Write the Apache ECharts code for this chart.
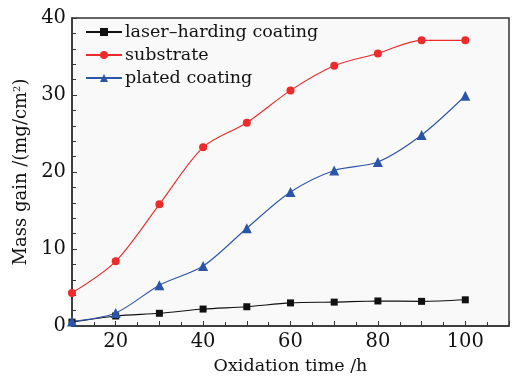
<!DOCTYPE html>
<html>
<head>
<meta charset="utf-8">
<script src="https://cdn.jsdelivr.net/npm/echarts@6/dist/echarts.min.js"></script>
<style>
  html, body { margin: 0; padding: 0; background: #fff; }
  #chart { width: 515px; height: 376px; }
</style>
</head>
<body>
<div id="chart"></div>
<script>
// oxidation time (h)
const times = [10, 20, 30, 40, 50, 60, 70, 80, 90, 100]
// mass gain (mg/cm2)
const laserHarding = [0.5, 1.3, 1.65, 2.2, 2.5, 3.0, 3.1, 3.25, 3.2, 3.4]
const substrate = [4.3, 8.4, 15.8, 23.2, 26.4, 30.6, 33.8, 35.4, 37.1, 37.1]
const plated = [0.6, 1.7, 5.3, 7.8, 12.7, 17.4, 20.2, 21.3, 24.8, 29.9]
const xLabels = [20, 40, 60, 80, 100]

const serif = 'DejaVu Serif'

const pairs = (ys) => times.map((t, i) => [t, ys[i]])

const myChart = echarts.init(document.getElementById('chart'))

const option = {
    animation: false,
    grid: {
        left: 72,
        right: 6,
        top: 18,
        bottom: 50,
        outerBoundsMode: 'none',
        containLabel: false,
        show: true,
        backgroundColor: '#f9f9f9',
        borderColor: '#333',
        borderWidth: 1.5
    },
    legend: {
        orient: 'vertical',
        left: 80,
        top: 18,
        itemWidth: 36,
        itemHeight: 10,
        itemGap: 5,
        textStyle: { fontFamily: serif, fontSize: 17.5, color: '#111', padding: [0, 0, 0, -2] },
        data: ['laser–harding coating', 'substrate', 'plated coating']
    },
    xAxis: {
        type: 'value',
        min: 10,
        max: 110,
        interval: 10,
        name: 'Oxidation time /h',
        nameLocation: 'middle',
        nameGap: 31,
        nameTextStyle: { fontFamily: serif, fontSize: 17.5, color: '#111' },
        axisLine: { lineStyle: { color: '#333', width: 1.5 } },
        axisTick: { inside: true, length: 5, lineStyle: { color: '#333' } },
        minorTick: { show: true, splitNumber: 2, length: 4, lineStyle: { color: '#333' } },
        splitLine: { show: false },
        axisLabel: {
            fontFamily: serif,
            fontSize: 19.5,
            color: '#111',
            margin: 6,
            formatter: (v) => xLabels.indexOf(v) >= 0 ? String(v) : ''
        }
    },
    yAxis: {
        type: 'value',
        min: 0,
        max: 40,
        interval: 10,
        name: 'Mass gain /(mg/cm{sup|2})',
        nameLocation: 'middle',
        nameGap: 39,
        nameTextStyle: {
            fontFamily: serif,
            fontSize: 18,
            color: '#111',
            rich: { sup: { fontFamily: serif, fontSize: 10, color: '#111', verticalAlign: 'top', padding: [0, 0, 8, 0] } }
        },
        axisLine: { lineStyle: { color: '#333', width: 1.5 } },
        axisTick: { inside: true, length: 5, lineStyle: { color: '#333' } },
        minorTick: { show: true, splitNumber: 5, length: 4, lineStyle: { color: '#333' } },
        splitLine: { show: false },
        axisLabel: { fontFamily: serif, fontSize: 19.5, color: '#111', margin: 6 }
    },
    series: [
        {
            name: 'laser–harding coating',
            type: 'line',
            smooth: 0.3,
            symbol: 'rect',
            symbolSize: 7,
            itemStyle: { color: '#111' },
            lineStyle: { color: '#111', width: 1.1 },
            data: pairs(laserHarding)
        },
        {
            name: 'substrate',
            type: 'line',
            smooth: 0.3,
            symbol: 'circle',
            symbolSize: 8,
            itemStyle: { color: '#ee2a2a' },
            lineStyle: { color: '#ee2a2a', width: 1.1 },
            data: pairs(substrate)
        },
        {
            name: 'plated coating',
            type: 'line',
            smooth: 0.3,
            symbol: 'triangle',
            symbolSize: 10,
            itemStyle: { color: '#2b55a8' },
            lineStyle: { color: '#2b55a8', width: 1.1 },
            data: pairs(plated)
        }
    ]
}

myChart.setOption(option)
</script>
</body>
</html>
